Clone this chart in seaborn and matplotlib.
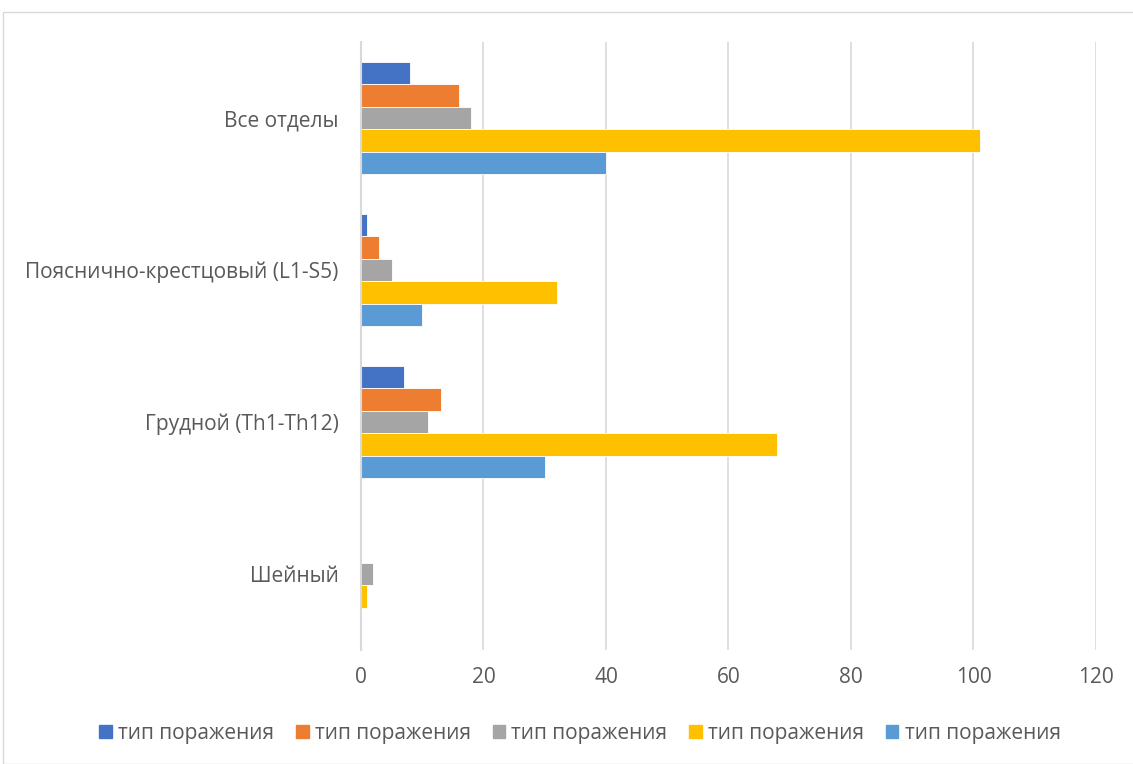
import matplotlib
matplotlib.use("Agg")
import matplotlib.pyplot as plt
from matplotlib.patches import Rectangle
import pandas as pd
import seaborn as sns

categories = ["Все отделы", "Пояснично-крестцовый (L1-S5)", "Грудной (Th1-Th12)", "Шейный"]
series_names = ["тип поражения"] * 5
s1 = [8, 1, 7, 0]
s2 = [16, 3, 13, 0]
s3 = [18, 5, 11, 2]
s4 = [101, 32, 68, 1]
s5 = [40, 10, 30, 0]
colors = ["#4472C4", "#ED7D31", "#A5A5A5", "#FFC000", "#5B9BD5"]
xticks = [0, 20, 40, 60, 80, 100, 120]

rows = []
for k, vals in enumerate([s1, s2, s3, s4, s5]):
    for cat, v in zip(categories, vals):
        rows.append({"cat": cat, "series": f"s{k}", "value": v})
df = pd.DataFrame(rows)

sns.set_theme(style="white")
plt.rcParams["font.family"] = ["Open Sans", "DejaVu Sans"]

fig = plt.figure(figsize=(11.33, 7.64), dpi=100)
ax = fig.add_axes([0.3186, 0.1492, 0.6487, 0.7958])

sns.barplot(data=df, y="cat", x="value", hue="series", order=categories,
            hue_order=[f"s{k}" for k in range(5)], palette=colors, saturation=1,
            orient="h", width=0.74, legend=False, ax=ax,
            edgecolor="white", linewidth=0.6)

ax.set_xlim(0, 120)
ax.set_xticks(xticks)
ax.set_xlabel("")
ax.set_ylabel("")
ax.grid(axis="x", color="#D9D9D9", linewidth=1.2)
ax.set_axisbelow(True)
for side in ["top", "right", "bottom"]:
    ax.spines[side].set_visible(False)
ax.spines["left"].set_color("#D9D9D9")
ax.spines["left"].set_linewidth(1.5)
ax.tick_params(axis="both", length=0, labelsize=15, colors="#595959")
ax.tick_params(axis="x", pad=12)
ax.tick_params(axis="y", pad=16)

handles = [Rectangle((0, 0), 1, 1, color=c) for c in colors]
fig.legend(handles, series_names, loc="center", bbox_to_anchor=(0.512, 0.04),
           ncol=5, frameon=False, fontsize=15, handlelength=0.6, handleheight=0.6,
           handletextpad=0.3, columnspacing=1.05, labelcolor="#595959")

fig.patches.append(Rectangle((3 / 1133, 0.0), 1.2, (764 - 12) / 764, transform=fig.transFigure,
                             fill=False, edgecolor="#D9D9D9", linewidth=1))

fig.savefig("out.png", dpi=100)
